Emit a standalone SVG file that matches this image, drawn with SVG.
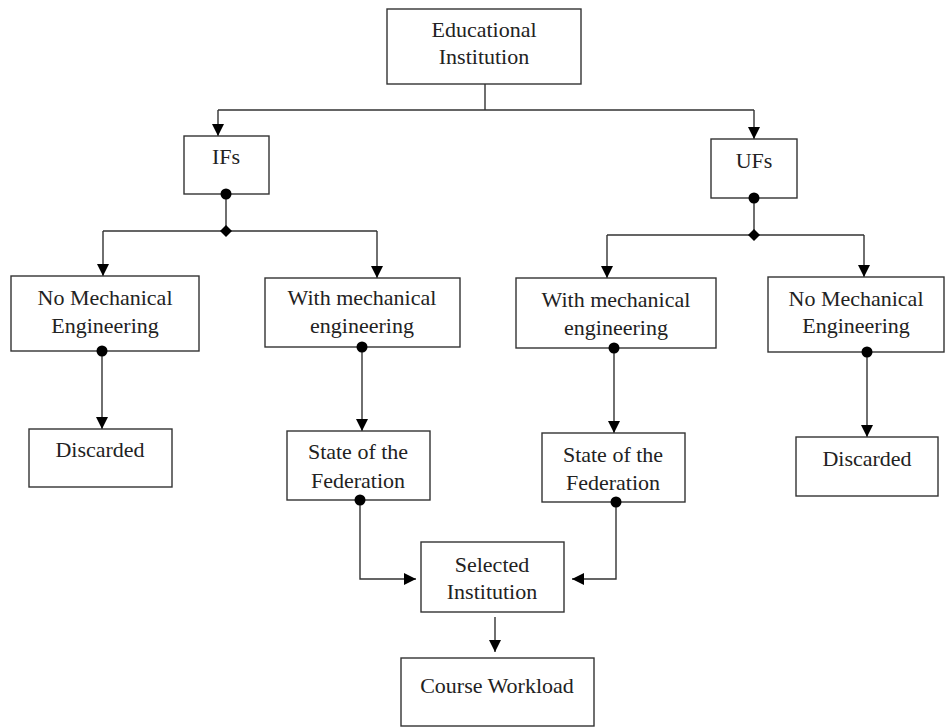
<svg xmlns="http://www.w3.org/2000/svg" width="945" height="728" viewBox="0 0 945 728">
<defs>
<style>
.box{fill:#fff;stroke:#333;stroke-width:1.4}
.ln{fill:none;stroke:#333;stroke-width:1.4}
.dot{fill:#000}
</style>
<marker id="ah" viewBox="0 0 12 12" refX="12" refY="6" markerWidth="12" markerHeight="12" markerUnits="userSpaceOnUse" orient="auto">
<path d="M0,0 L12,6 L0,12 z" fill="#000"/>
</marker>
</defs>
<rect width="945" height="728" fill="#fff"/>

<g id="connectors">
<path class="ln" d="M485,84 V110 M218,110 H754"/>
<path class="ln" d="M218,110 V136" marker-end="url(#ah)"/>
<path class="ln" d="M754,110 V139" marker-end="url(#ah)"/>
<path class="ln" d="M226,194 V231 M103,231 H377"/>
<path class="ln" d="M103,231 V276" marker-end="url(#ah)"/>
<path class="ln" d="M377,231 V278" marker-end="url(#ah)"/>
<path class="ln" d="M754,198 V235 M607,235 H864"/>
<path class="ln" d="M607,235 V278" marker-end="url(#ah)"/>
<path class="ln" d="M864,235 V277" marker-end="url(#ah)"/>
<path class="ln" d="M102,351 V429" marker-end="url(#ah)"/>
<path class="ln" d="M362,347 V431" marker-end="url(#ah)"/>
<path class="ln" d="M614,348 V433" marker-end="url(#ah)"/>
<path class="ln" d="M867,352 V437" marker-end="url(#ah)"/>
<path class="ln" d="M360,500 V579 H416" marker-end="url(#ah)"/>
<path class="ln" d="M616,502 V579 H572" marker-end="url(#ah)"/>
<path class="ln" d="M495,617 V652" marker-end="url(#ah)"/>
<polygon class="dot" points="226,225 232,231 226,237 220,231"/>
<polygon class="dot" points="754,229 760,235 754,241 748,235"/>
</g>

<g font-family="Liberation Serif, serif" font-size="22" fill="#222" text-anchor="middle">
<g id="edu">
<rect class="box" x="387" y="9" width="194" height="75"/>
<text x="484" y="37">Educational</text>
<text x="484" y="64">Institution</text>
</g>
<g id="ifs">
<rect class="box" x="184" y="136" width="85" height="58"/>
<text x="226" y="164">IFs</text>
<circle class="dot" cx="226" cy="194" r="5.5"/>
</g>
<g id="ufs">
<rect class="box" x="711" y="139" width="86" height="59"/>
<text x="754" y="168">UFs</text>
<circle class="dot" cx="754" cy="198" r="5.5"/>
</g>
<g id="ifs-nomech">
<rect class="box" x="11" y="276" width="188" height="75"/>
<text x="105" y="305">No Mechanical</text>
<text x="105" y="333">Engineering</text>
<circle class="dot" cx="102" cy="351" r="5.5"/>
</g>
<g id="ifs-withmech">
<rect class="box" x="265" y="278" width="195" height="69"/>
<text x="362" y="305">With mechanical</text>
<text x="362" y="333">engineering</text>
<circle class="dot" cx="362" cy="347" r="5.5"/>
</g>
<g id="ufs-withmech">
<rect class="box" x="516" y="278" width="200" height="70"/>
<text x="616" y="307">With mechanical</text>
<text x="616" y="335">engineering</text>
<circle class="dot" cx="614" cy="348" r="5.5"/>
</g>
<g id="ufs-nomech">
<rect class="box" x="768" y="277" width="176" height="75"/>
<text x="856" y="306">No Mechanical</text>
<text x="856" y="333">Engineering</text>
<circle class="dot" cx="867" cy="352" r="5.5"/>
</g>
<g id="ifs-discarded">
<rect class="box" x="29" y="429" width="143" height="58"/>
<text x="100" y="457">Discarded</text>
</g>
<g id="ifs-state">
<rect class="box" x="287" y="431" width="143" height="69"/>
<text x="358" y="459">State of the</text>
<text x="358" y="488">Federation</text>
<circle class="dot" cx="360" cy="500" r="5.5"/>
</g>
<g id="ufs-state">
<rect class="box" x="542" y="433" width="143" height="69"/>
<text x="613" y="462">State of the</text>
<text x="613" y="490">Federation</text>
<circle class="dot" cx="616" cy="502" r="5.5"/>
</g>
<g id="ufs-discarded">
<rect class="box" x="796" y="437" width="142" height="59"/>
<text x="867" y="466">Discarded</text>
</g>
<g id="selected">
<rect class="box" x="421" y="542" width="143" height="70"/>
<text x="492" y="572">Selected</text>
<text x="492" y="599">Institution</text>
</g>
<g id="workload">
<rect class="box" x="401" y="658" width="193" height="68"/>
<text x="497" y="693">Course Workload</text>
</g>
</g>
</svg>
